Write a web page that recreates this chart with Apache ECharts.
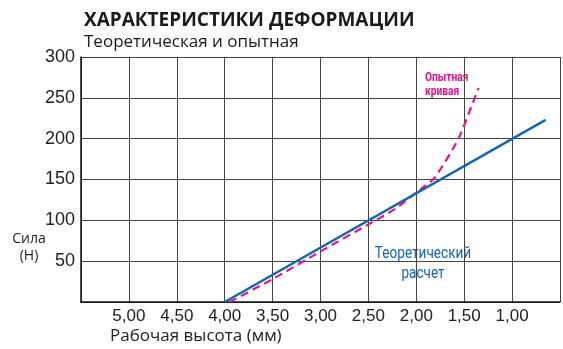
<!DOCTYPE html>
<html>
<head>
<meta charset="utf-8">
<script src="https://cdn.jsdelivr.net/npm/echarts@6/dist/echarts.min.js"></script>
<style>
html,body{margin:0;padding:0;background:#fff;}
#c{width:563px;height:349px;}
</style>
</head>
<body>
<div id="c"></div>
<script>
// Data
const xTicks = [5.00, 4.50, 4.00, 3.50, 3.00, 2.50, 2.00, 1.50, 1.00];
const yTicks = [50, 100, 150, 200, 250, 300];
const theoryX = [4.00, 0.65];
const theoryY = [0, 223];
const experX = [3.95, 3.50, 3.00, 2.50, 2.22, 2.00, 1.81, 1.56, 1.39, 1.35];
const experY = [0, 28, 62, 95, 114, 134, 152, 200, 250, 262];

const chart = echarts.init(document.getElementById('c'), null, {renderer: 'canvas'});
const toPairs = (xs, ys) => xs.map((x, i) => [x, ys[i]]);
const FONT = 'Liberation Sans';

chart.setOption({
  animation: false,
  backgroundColor: '#fff',
  grid: {left: 81, top: 57, width: 486, height: 245, containLabel: false},
  xAxis: {
    type: 'value', inverse: true, min: 0.5, max: 5.5, interval: 0.5,
    axisLine: {show: true, onZero: false, lineStyle: {color: '#111', width: 1.5}},
    axisTick: {show: false},
    splitLine: {show: true, lineStyle: {color: '#444', width: 1}},
    axisLabel: {
      color: '#222', fontFamily: FONT, fontSize: 17, margin: 6,
      formatter: v => xTicks.some(t => Math.abs(t - v) < 1e-6) ? v.toFixed(2).replace('.', ',') : ''
    }
  },
  yAxis: {
    type: 'value', min: 0, max: 300, interval: 50,
    axisLine: {show: true, onZero: false, lineStyle: {color: '#111', width: 1.5}},
    axisTick: {show: false},
    splitLine: {show: true, lineStyle: {color: '#444', width: 1}},
    axisLabel: {
      color: '#222', fontFamily: FONT, fontSize: 18, margin: 6,
      formatter: v => yTicks.includes(v) ? String(v) : ''
    }
  },
  series: [
    {
      type: 'line', data: toPairs(experX, experY), showSymbol: false, smooth: 0.2,
      lineStyle: {color: '#e8128a', width: 2.2, type: [8, 5]}, z: 3
    },
    {
      type: 'line', data: toPairs(theoryX, theoryY), showSymbol: false,
      lineStyle: {color: '#1565b0', width: 2.4}, z: 4
    }
  ],
  graphic: [
    {type: 'text', left: 84, top: 11, style: {text: 'ХАРАКТЕРИСТИКИ ДЕФОРМАЦИИ', font: 'bold 19px "Open Sans"', fill: '#1a1a1a'}},
    {type: 'text', left: 84, top: 34, style: {text: 'Теоретическая и опытная', font: '17px "Open Sans"', fill: '#1a1a1a'}},
    {type: 'text', x: 29, y: 231, style: {text: 'Сила\n(Н)', font: '14px "Open Sans"', fill: '#222', align: 'center', verticalAlign: 'top', lineHeight: 17}},
    {type: 'text', left: 110, top: 328, style: {text: 'Рабочая высота (мм)', font: '17px "Open Sans"', fill: '#222'}},
    {type: 'text', x: 425, y: 71, scaleX: 0.85, style: {text: 'Опытная\nкривая', font: 'bold 12px Roboto', fill: '#e8128a', lineHeight: 14, verticalAlign: 'top'}},
    {type: 'text', x: 423, y: 244, scaleX: 0.8, style: {text: 'Теоретический\nрасчет', font: '17px Roboto', fill: '#1565b0', align: 'center', verticalAlign: 'top', lineHeight: 20}}
  ]
});
</script>
</body>
</html>
